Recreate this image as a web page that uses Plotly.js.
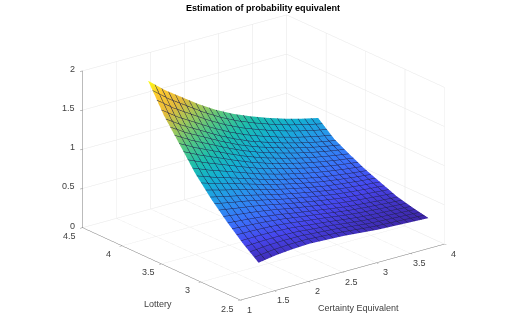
<!DOCTYPE html>
<html><head><meta charset="utf-8">
<script src="https://cdn.plot.ly/plotly-3.0.1.min.js"></script>
<style>html,body{margin:0;padding:0;background:#fff}#c{width:510px;height:329px}</style></head>
<body><div id="c"></div>
<script>
const certaintyEquivalent=[1.5,1.75,2,2.25,2.5,2.75,3,3.25,3.5,3.75,4];
const lottery=[2.7,2.9,3.1,3.3,3.5,3.7,3.9,4.1];
const probabilityEquivalent=[
[0.265,0.30,0.32,0.33,0.32,0.31,0.29,0.27,0.26,0.25,0.24],
[0.42,0.428,0.427,0.417,0.394,0.373,0.346,0.321,0.306,0.293,0.28],
[0.60,0.578,0.556,0.525,0.487,0.453,0.418,0.387,0.365,0.346,0.33],
[0.80,0.751,0.707,0.656,0.603,0.558,0.517,0.479,0.453,0.429,0.41],
[1.03,0.95,0.881,0.809,0.738,0.679,0.627,0.581,0.545,0.515,0.49],
[1.31,1.197,1.10,1.001,0.91,0.834,0.77,0.712,0.664,0.624,0.59],
[1.59,1.443,1.321,1.197,1.087,0.994,0.918,0.85,0.791,0.741,0.70],
[1.94,1.76,1.61,1.46,1.33,1.22,1.13,1.05,0.98,0.92,0.87]];
const xTicks=[1,1.5,2,2.5,3,3.5,4];
const yTicks=[2.5,3,3.5,4,4.5];
const zTicks=[0,0.5,1,1.5,2];
const parula=[[0,'#3e26a8'],[0.1,'#4746ee'],[0.2,'#3a74fb'],[0.3,'#2797eb'],[0.4,'#14b0d3'],[0.5,'#1cbeae'],[0.6,'#50c785'],[0.7,'#a0c85a'],[0.8,'#e4bb3b'],[0.9,'#fdc830'],[1,'#f9fb15']];
const tf={family:'Liberation Sans, Arial, sans-serif',size:9,color:'#404040'};
const ann=[];
xTicks.forEach(v=>ann.push({x:v,y:2.5,z:0,text:String(v),showarrow:false,xshift:9,yshift:-9.5,font:tf}));
yTicks.forEach(v=>ann.push({x:1,y:v,z:0,text:String(v),showarrow:false,xshift:-13,yshift:-8.5,font:tf}));
zTicks.forEach(v=>ann.push({x:1,y:4.5,z:v,text:String(v),showarrow:false,xanchor:'right',xshift:-6,yshift:2,font:tf}));
ann.push({x:2.5,y:2.5,z:0,text:'Certainty Equivalent',showarrow:false,xshift:16,yshift:-36,font:tf});
ann.push({x:1,y:3.5,z:0,text:'Lottery',showarrow:false,xshift:-3.5,yshift:-40.5,font:tf});
const ax=(range,tv)=>({range:range,tickvals:tv,ticktext:tv.map(()=>''),showticklabels:false,title:{text:''},showbackground:false,showgrid:true,gridcolor:'#e6e6e6',gridwidth:1,zeroline:false,showline:true,linecolor:'#777',linewidth:1,ticks:'outside',ticklen:3,tickcolor:'#777',showspikes:false});
const R=1.26,S=1.638;
Plotly.newPlot('c',[{type:'surface',x:certaintyEquivalent,y:lottery,z:probabilityEquivalent,colorscale:parula,showscale:false,hoverinfo:'skip',
 lighting:{ambient:1,diffuse:0,specular:0,roughness:1,fresnel:0},
 contours:{x:{show:true,start:1.5,end:4,size:0.1,color:'#20204a',width:1,highlight:false},y:{show:true,start:2.7,end:4.1,size:0.056,color:'#20204a',width:1,highlight:false},z:{highlight:false}}}],
 {width:510,height:329,margin:{l:0,r:0,t:0,b:0},paper_bgcolor:'#fff',showlegend:false,
  title:{text:'<b>Estimation of probability equivalent</b>',x:263/510,xanchor:'center',y:1-8/329,yanchor:'middle',font:{family:'Liberation Sans, Arial, sans-serif',size:9.1,color:'#000'}},
  scene:{domain:{x:[17/510,1],y:[14/329,1]},aspectmode:'manual',aspectratio:{x:S,y:S,z:0.65*S},
   camera:{projection:{type:'orthographic'},up:{x:0,y:0,z:1},center:{x:0,y:0,z:0},eye:{x:-0.572*R,y:-0.74*R,z:0.355*R}},
   xaxis:ax([1,4],xTicks),yaxis:ax([2.5,4.5],yTicks),zaxis:ax([0,2],zTicks),annotations:ann}},
 {displayModeBar:false});
</script></body></html>
